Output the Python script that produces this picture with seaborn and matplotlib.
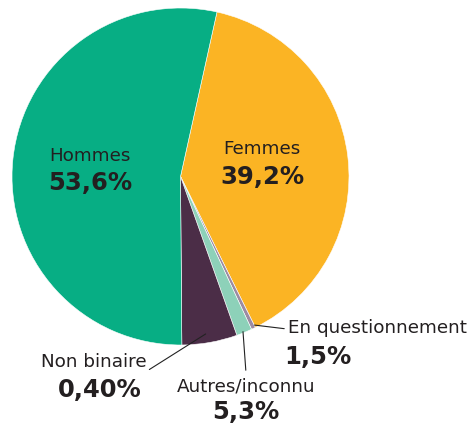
import numpy as np
import seaborn as sns
import matplotlib.pyplot as plt

# Slices, clockwise from the top
slices = ['Femmes', 'En questionnement', 'Autres/inconnu', 'Non binaire', 'Hommes']
values = [39.2, 0.4, 1.5, 5.3, 53.6]
# text as printed on the chart
names = ['Femmes', 'En questionnement', 'Autres/inconnu', 'Non binaire', 'Hommes']
pct_text = ['39,2%', '1,5%', '5,3%', '0,40%', '53,6%']
colors = ['#FBB424', '#9C8BA3', '#8DD1B9', '#4B2D47', '#07AE84']

sns.set_style("white")
plt.rcParams['font.family'] = ['DejaVu Sans']

fig = plt.figure(figsize=(4.69, 4.23), dpi=100)
ax = fig.add_axes([0, 0, 1, 1])

start = 77.5
wedges, _ = ax.pie(values, colors=colors, startangle=start, counterclock=False,
                   wedgeprops=dict(edgecolor='white', linewidth=0.4))

# pixel frame: centre (180.5, 176.5), radius 168.5 px
ax.set_xlim(-180.5 / 168.5, (469 - 180.5) / 168.5)
ax.set_ylim((176.5 - 423) / 168.5, 176.5 / 168.5)
ax.set_aspect('equal')
ax.axis('off')

def px(x, y):
    return (x - 180.5) / 168.5, (176.5 - y) / 168.5

txt = '#231F20'
name_fs, pct_fs = 13.2, 17.5
# big slices, labels inside
for i, (nx, ny, py) in {0: (262, 149, 177), 4: (90, 156, 183)}.items():
    ax.text(*px(nx, ny), names[i], ha='center', va='center', fontsize=name_fs, color=txt)
    ax.text(*px(nx, py), pct_text[i], ha='center', va='center', fontsize=pct_fs,
            fontweight='bold', color=txt)

# small slices, labels outside with leader lines
outside = {
    1: dict(name=(288, 328, 'left'), pct=(318, 357), line_end=(287, 329), r=0.976),
    2: dict(name=(246, 386, 'center'), pct=(246, 412), line_end=(246, 373), r=0.977),
    3: dict(name=(94, 362, 'center'), pct=(100, 390), line_end=(147, 371), r=0.94),
}
for i, o in outside.items():
    w = wedges[i]
    mid = np.deg2rad((w.theta1 + w.theta2) / 2)
    xy = (o['r'] * np.cos(mid), o['r'] * np.sin(mid))
    ax.annotate('', xy=xy, xytext=px(*o['line_end']),
                arrowprops=dict(arrowstyle='-', color='#222222', lw=0.8))
    nx, ny, ha = o['name']
    ax.text(*px(nx, ny), names[i], ha=ha, va='center', fontsize=name_fs, color=txt)
    ax.text(*px(*o['pct']), pct_text[i], ha='center', va='center', fontsize=pct_fs,
            fontweight='bold', color=txt)

fig.savefig('out.png', dpi=100)
